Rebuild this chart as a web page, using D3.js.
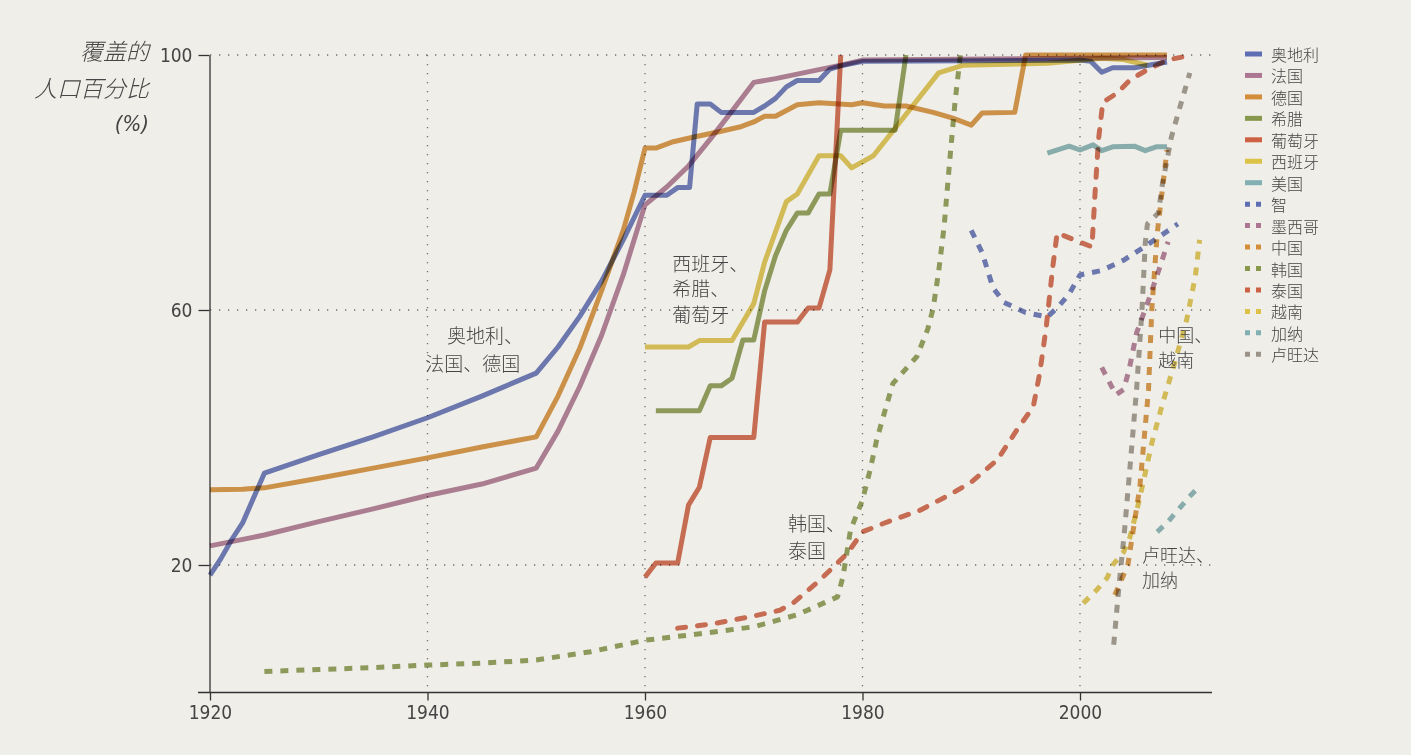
<!DOCTYPE html>
<html>
<head>
<meta charset="utf-8">
<script src="https://cdn.jsdelivr.net/npm/d3@7"></script>
<style>
  html, body { margin: 0; padding: 0; background: #efeee9; }
  svg { display: block; }
  .cjk { font-family: "Noto Sans CJK SC", "Noto Sans", sans-serif; font-weight: 300; fill: #454545; }
  .num { font-family: "Liberation Sans Narrow", "DejaVu Sans Condensed", "Liberation Sans", sans-serif; fill: #444; }
</style>
</head>
<body>
<svg id="chart" width="1411" height="755"></svg>
<script>
// Share of population covered (%), by country and year: [year, percent]
const austria = [[1920,18.4],[1921,21],[1922,24],[1923,26.6],[1924,30.5],[1925,34.4],[1930,37.3],[1935,40.1],[1940,43.1],[1945,46.5],[1950,50.1],[1952,54.2],[1954,59],[1956,64.5],[1958,71],[1960,78],[1962,78],[1963,79.2],[1964.1,79.2],[1964.8,92.3],[1966,92.3],[1967,91],[1970,91],[1971,92],[1972,93.2],[1973,95],[1974,96],[1976,96],[1977,97.8],[1978,98.3],[1980,99],[2000,99.2],[2001,99],[2002,97.3],[2003,98],[2005,98],[2008,98.9]];
const france = [[1920,23],[1925,24.7],[1930,26.8],[1935,28.8],[1940,30.9],[1945,32.7],[1950,35.2],[1952,41],[1954,48],[1956,56],[1958,65.5],[1960,76.5],[1962,79.3],[1964,82.6],[1966,86.8],[1968,91.2],[1970,95.7],[1972,96.3],[1974,97],[1976,97.7],[1978,98.4],[1980,99.2],[2008,99.6]];
const germany = [[1920,31.8],[1923,31.9],[1925,32.1],[1930,33.6],[1935,35.2],[1940,36.8],[1945,38.5],[1950,40.1],[1952,46.5],[1954,54],[1956,63],[1958,72.5],[1959,78.5],[1960,85.4],[1961,85.4],[1962.6,86.4],[1964.4,87.1],[1966.9,88],[1968.7,88.7],[1970,89.5],[1971,90.4],[1972,90.4],[1974,92.2],[1976,92.5],[1979,92.2],[1980,92.5],[1982,92],[1984,92],[1986.5,91],[1988.3,90.1],[1990,89],[1991,90.9],[1994,91],[1995,100],[2008,100]];
const greece = [[1961,44.2],[1965,44.2],[1966,48.1],[1967,48.1],[1968,49.3],[1969,55.3],[1970,55.3],[1971,63],[1972,68.5],[1973,72.5],[1974,75.2],[1975,75.2],[1976,78.2],[1977,78.2],[1978,88.2],[1983,88.2],[1984,100]];
const portugal = [[1960,18.1],[1961,20.3],[1963,20.3],[1964,29.4],[1965,32.2],[1966,40],[1970,40],[1971,58.1],[1974,58.1],[1975,60.3],[1976,60.3],[1977,66.3],[1978,100]];
const spain = [[1960,54.2],[1964,54.2],[1965,55.2],[1968,55.2],[1970,61],[1971,67.5],[1973,77],[1974,78.2],[1976,84.2],[1978,84.2],[1979,82.3],[1981,84.2],[1983,88.5],[1987,97.2],[1989.3,98.4],[1997,98.7],[2002,99.5],[2004,99.3],[2006.2,98.4]];
const usa = [[1997,84.6],[1999,85.7],[2000,85.1],[2001.2,85.9],[2002,85],[2003,85.6],[2005,85.7],[2006,85],[2007,85.6],[2008,85.6]];
const chile = [[1990,72.5],[1991,69],[1992,63.5],[1993,61.2],[1995,59.6],[1997,58.9],[1998,60.5],[1999,62.5],[2000,65.5],[2002,66.2],[2004,67.8],[2006,70],[2009,73.5]];
const mexico = [[2002,51],[2003.3,46.7],[2004,47.5],[2004.5,50.5],[2005.2,56.4],[2006.4,62],[2007.2,66],[2008.1,70.7]];
const china = [[2003.2,15.3],[2004.4,20],[2005.5,32.2],[2006.3,47.5],[2006.6,60],[2007.1,72],[2008,85.1]];
const korea = [[1925,3.3],[1930,3.6],[1935,3.9],[1940,4.3],[1945,4.6],[1950,5.1],[1955,6.4],[1960,8.2],[1964,9],[1970,10.3],[1974,12.2],[1976,13.7],[1977.7,15],[1978.2,18.1],[1978.9,25.5],[1980,30.2],[1980.7,34.9],[1981.3,39.6],[1982.2,45],[1982.8,48.5],[1985,52.7],[1986,57],[1986.5,60.3],[1987,66],[1987.5,73],[1988,83],[1988.5,92.5],[1989,100]];
const thailand = [[1963,10.1],[1966,10.7],[1970,12],[1972.4,12.9],[1973.6,14],[1976,17.5],[1978.6,21.8],[1980,25.2],[1982.2,26.7],[1985.3,28.6],[1988,31],[1990,33],[1992.4,36.5],[1994.2,41.2],[1995.7,44.8],[1996.3,50.1],[1996.9,57.4],[1997.5,66.8],[1997.9,72.1],[2000.2,70.5],[2001.1,69.9],[2001.4,78.8],[2001.7,86.7],[2002.1,92.6],[2003.4,94],[2004.6,96.1],[2006.1,97.6],[2008,99.2],[2010.3,100]];
const vietnam = [[2000.3,14],[2001.6,16.2],[2002.5,18],[2003,20],[2004,22],[2004.6,24.4],[2005.3,29.1],[2006,34.4],[2006.6,39.1],[2007.6,45.4],[2008.6,51.1],[2009.8,58.4],[2010.6,65.2],[2011,71]];
const canada = [[2007.1,25.2],[2008,26.6],[2009,28.6],[2010,30.6],[2010.9,32.2]];
const rwanda = [[2003.1,7.5],[2003.6,17],[2004.1,25.5],[2004.6,35.4],[2005.2,47.5],[2005.7,60],[2006,70.5],[2006.2,73.5],[2007.2,75.2],[2007.6,80],[2008,83.5],[2008.4,87.1],[2009.2,91.9],[2010.1,97.2]];

const countries = ["奥地利","法国","德国","希腊","葡萄牙","西班牙","美国","智","墨西哥","中国","韩国","泰国","越南","加纳","卢旺达"];
const seriesValues = [austria, france, germany, greece, portugal, spain, usa, chile, mexico, china, korea, thailand, vietnam, canada, rwanda];
const dottedSeries = ["智","墨西哥","中国","韩国","泰国","越南","加纳","卢旺达"];
const roundDashSeries = ["泰国"];

const xTicks = [1920, 1940, 1960, 1980, 2000];
const yTicks = [20, 60, 100];
const axisTitle = ["覆盖的", "人口百分比", "(%)"];

// Group annotations: text lines and the [year, percent] where each line starts
const noteLines = [
  ["奥地利、", "法国、德国"],
  ["西班牙、", "希腊、", "葡萄牙"],
  ["韩国、", "泰国"],
  ["中国、", "越南"],
  ["卢旺达、", "加纳"]
];
const noteAnchors = [
  [[1941.8, 56.1], [1939.8, 51.8]],
  [[1962.5, 67.5], [1962.5, 63.5], [1962.5, 59.5]],
  [[1973.15, 26.6], [1973.15, 22.4]],
  [[2007.2, 56.2], [2007.2, 52.3]],
  [[2005.7, 21.7], [2005.7, 17.8]]
];
const noteSizes = [19, 19, 19, 18, 18];

// ---- drawing ----
const palette = ["#5e6eb4","#ac7592","#d48d38","#87984d","#cd6143","#dcc247","#82b0b2",
                 "#5e6eb4","#ac7592","#d48d38","#87984d","#cd6143","#dcc247","#82b0b2","#9b9389"];

const svg = d3.select("#chart");
svg.append("rect").attr("width", 1411).attr("height", 755).attr("fill", "#efeee9");

const x = d3.scaleLinear().domain([1920, 2012]).range([210, 1210.5]);
const y = d3.scaleLinear().domain([0, 100]).range([692.5, 55]);

// dotted grid
const grid = svg.append("g").attr("stroke", "#6f6f6f").attr("stroke-width", 1.3)
  .attr("stroke-dasharray", "1.3,7.7").attr("fill", "none");
grid.selectAll("line.h").data(yTicks).join("line").attr("class", "h")
  .attr("x1", x(1920)).attr("x2", x(2012)).attr("y1", d => y(d)).attr("y2", d => y(d));
grid.selectAll("line.v").data(xTicks.slice(1)).join("line").attr("class", "v")
  .attr("x1", d => x(d)).attr("x2", d => x(d)).attr("y1", y(100)).attr("y2", y(0));

// axes
const xAxis = svg.append("g").attr("transform", `translate(0,${y(0)})`)
  .call(d3.axisBottom(x).tickValues(xTicks).tickFormat(d3.format("d")).tickSize(8).tickSizeOuter(0).tickPadding(5));
xAxis.select(".domain").remove();
xAxis.append("line").attr("x1", 198).attr("x2", x(2012) + 1.5).attr("stroke", "#333").attr("stroke-width", 1.3);

const yAxis = svg.append("g").attr("transform", `translate(${x(1920) - 0.5},0)`)
  .call(d3.axisLeft(y).tickValues(yTicks).tickSize(11).tickSizeOuter(0).tickPadding(6));

[xAxis, yAxis].forEach(g => {
  g.selectAll("line").attr("stroke", "#333").attr("stroke-width", 1.3);
  g.selectAll(".domain").attr("stroke", "#333").attr("stroke-width", 1.3);
  g.selectAll("text").attr("class", "num").style("font-size", "19px").attr("fill", "#444");
});

// axis title
svg.append("g").selectAll("text").data(axisTitle).join("text")
  .attr("class", (d, i) => i < 2 ? "cjk" : "num")
  .attr("x", 149).attr("y", (d, i) => [50, 87, 123][i])
  .attr("text-anchor", "end").attr("dominant-baseline", "central")
  .style("font-style", "italic").style("font-size", (d, i) => i < 2 ? "23px" : "22px")
  .text(d => d);

// series lines
const line = d3.line().x(d => x(d[0])).y(d => y(d[1]));
const lines = svg.append("g");
countries.forEach((name, i) => {
  const dotted = dottedSeries.includes(name);
  const round = roundDashSeries.includes(name);
  lines.append("path")
    .datum(seriesValues[i])
    .attr("d", line)
    .attr("fill", "none")
    .attr("stroke", palette[i])
    .attr("stroke-width", 5)
    .attr("stroke-linejoin", "round")
    .attr("stroke-linecap", round ? "round" : "butt")
    .attr("stroke-dasharray", dotted ? (round ? "8,12" : "8,8") : null)
    .style("mix-blend-mode", "multiply")
    .style("opacity", 0.88);
});

// annotations: one multi-line text block per group
const notes = svg.append("g");
noteLines.forEach((ls, k) => {
  const block = notes.append("text").attr("class", "cjk").style("font-size", noteSizes[k] + "px");
  ls.forEach((t, j) => {
    block.append("tspan")
      .attr("x", x(noteAnchors[k][j][0])).attr("y", y(noteAnchors[k][j][1]))
      .attr("dominant-baseline", "central")
      .text(t);
  });
});

// legend
const legend = svg.append("g").attr("transform", "translate(1245,54)");
const rows = legend.selectAll("g").data(countries).join("g")
  .attr("transform", (d, i) => `translate(0,${i * 21.45})`);
rows.append("line").attr("x1", 0).attr("x2", 17).attr("y1", 0).attr("y2", 0)
  .attr("stroke", (d, i) => palette[i]).attr("stroke-width", 5)
  .attr("stroke-dasharray", d => dottedSeries.includes(d) ? "5,6" : null);
rows.append("text").attr("class", "cjk").attr("x", 26).attr("y", 0)
  .attr("dominant-baseline", "central").style("font-size", "16px")
  .text(d => d);
</script>
</body>
</html>
